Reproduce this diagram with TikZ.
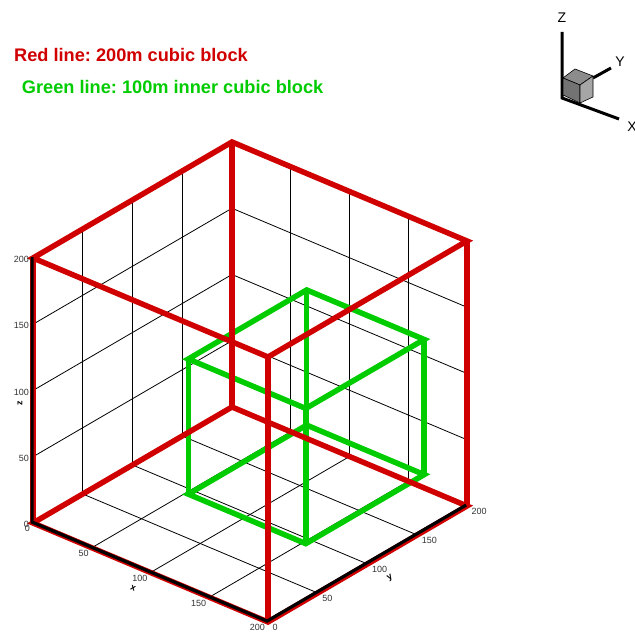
\documentclass[tikz,border=0pt]{standalone}
\usepackage{fontspec}
\setmainfont{Liberation Sans}
\usepackage{xcolor}
\usepackage{tikz}

\definecolor{blockred}{RGB}{208,0,0}
\definecolor{blockgreen}{RGB}{0,204,0}

\begin{document}
\frenchspacing
\begin{tikzpicture}[
    x=1bp, y=1bp,
    every node/.style={font=\fontsize{9bp}{10bp}\selectfont, inner sep=0pt},
    legendtext/.style={font=\fontsize{18.2bp}{22bp}\selectfont\bfseries, anchor=base west, text=#1},
    gridline/.style={draw=black, line width=0.8bp},
    redline/.style={draw=blockred, line width=5.5bp},
    greenline/.style={draw=blockgreen, line width=5.5bp},
    axisline/.style={draw=black, line width=3.2bp},
    ticklabel/.style={text=black!80},
    axtitle/.style={font=\fontsize{9bp}{10bp}\selectfont\bfseries},
    triadline/.style={draw=black, line width=3bp},
    triadlabel/.style={font=\fontsize{14bp}{16bp}\selectfont},
    face/.style={fill=#1, draw=black, line width=0.6bp, line join=round},
]
    \useasboundingbox (0,0) rectangle (635,632);

    % --- legend (top left) ---
    \node[legendtext=blockred]   (redkey)   at (14,570)   {Red line: 200m cubic block};
    \node[legendtext=blockgreen] (greenkey) at (21.7,538.7) {Green line: 100m inner cubic block};

    % --- blocks, in data coordinates (metres) ---
    \begin{scope}[shift={(33,109)}, x={(1.175bp,-0.495bp)}, y={(0.995bp,0.58bp)}, z={(0bp,1.325bp)}]
        % grid on the three back planes
        \foreach \v in {50,100,150} {
            \draw[gridline] (\v,0,0) -- (\v,200,0);
            \draw[gridline] (0,\v,0) -- (200,\v,0);
            \draw[gridline] (0,0,\v) -- (0,200,\v);
            \draw[gridline] (0,\v,0) -- (0,\v,200);
            \draw[gridline] (\v,200,0) -- (\v,200,200);
            \draw[gridline] (0,200,\v) -- (200,200,\v);
        }

        % inner block (green)
        \draw[greenline] (50,97,-2) -- (150,97,-2) -- (150,216,-2) -- (50,216,-2) -- cycle;
        \draw[greenline] (50,97,100) -- (150,97,100) -- (150,216,100) -- (50,216,100) -- cycle;
        \foreach \gx/\gy in {50/97, 150/97, 150/216, 50/216}
            \draw[greenline] (\gx,\gy,-2) -- (\gx,\gy,100);

        % outer block (red)
        \draw[redline] (0,0,0) -- (200,0,0) -- (200,200,0) -- (0,200,0) -- cycle;
        \draw[redline] (0,0,200) -- (200,0,200) -- (200,200,200) -- (0,200,200) -- cycle;
        \foreach \cx/\cy in {0/0, 200/0, 200/200, 0/200}
            \draw[redline] (\cx,\cy,0) -- (\cx,\cy,200);

        % axes
        \begin{scope}[shift={(-0.9bp,0.9bp)}]
            \draw[axisline] (0,0,200) -- (0,0,0) -- (200,0,0) -- (200,200,0);
        \end{scope}

        % tick labels
        \foreach \v in {0,50,100,150,200} {
            \node[ticklabel, anchor=north east, xshift=-3bp, yshift=-2.5bp] (xt\v) at (\v,0,0) {\v};
            \node[ticklabel, anchor=north west, xshift=4.5bp, yshift=-2bp] (yt\v) at (200,\v,0) {\v};
            \node[ticklabel, anchor=east, xshift=-4bp, yshift=-1.5bp] (zt\v) at (0,0,\v) {\v};
        }

        % axis titles
        \node[axtitle, xshift=-17.5bp, yshift=-15.5bp, rotate=-23] (xtitle) at (100,0,0) {x};
        \node[axtitle, xshift=22.5bp, yshift=-14bp, rotate=30] (ytitle) at (200,100,0) {y};
        \node[axtitle, xshift=-13bp, yshift=-12.5bp, rotate=90] (ztitle) at (0,0,100) {z};
    \end{scope}

    % --- orientation triad (top right) ---
    \coordinate (torig) at (562,534);
    \coordinate (tz) at (562,600);
    \coordinate (tx) at (619,513);
    \coordinate (tyfoot) at (593,554);
    \coordinate (ty) at (611,564);
    \draw[triadline] (tz) -- (torig) -- (tx);
    \draw[triadline] (tyfoot) -- (ty);
    \fill[face=black!45] (563,554) -- (575,563) -- (593,556) -- (580,547) -- cycle;
    \fill[face=black!55] (563,554) -- (580,547) -- (580,529) -- (563,537) -- cycle;
    \fill[face=black!35] (580,547) -- (593,556) -- (593,535) -- (580,529) -- cycle;
    \node[triadlabel] (tzlabel) at (562,614) {Z};
    \node[triadlabel] (tylabel) at (620,570) {Y};
    \node[triadlabel] (txlabel) at (632,505) {X};
\end{tikzpicture}
\end{document}
